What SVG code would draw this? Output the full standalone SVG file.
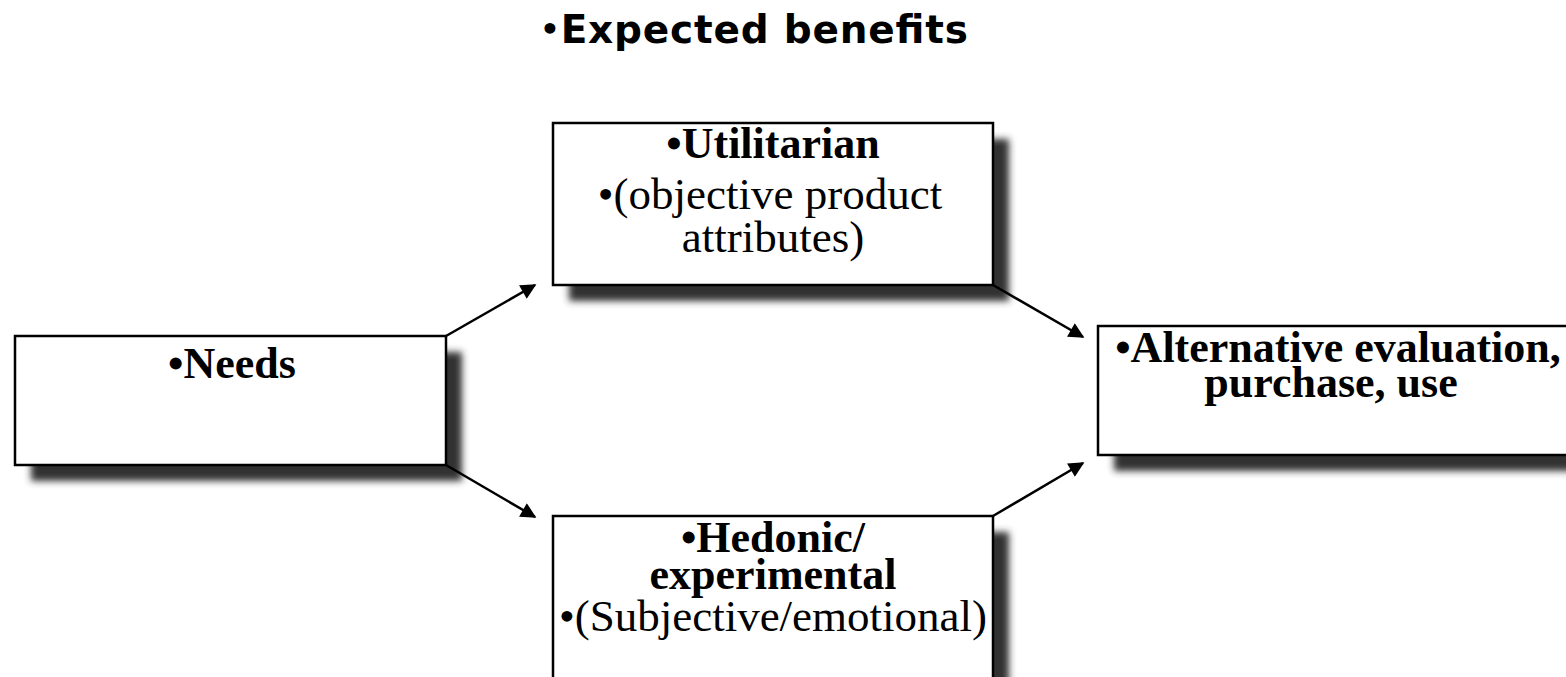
<svg xmlns="http://www.w3.org/2000/svg" width="1566" height="677" viewBox="0 0 1566 677">
  <style>
    .box { fill: #ffffff; stroke: #000000; stroke-width: 2.5; }
    .shadow { fill: #333333; filter: url(#soft); }
    .title { font-family: "DejaVu Sans", "Open Sans", sans-serif; font-weight: 700; font-size: 39px; fill: #000; }
    .dot { font-size: 31px; }
    .hd { font-family: "Liberation Serif", "Times New Roman", serif; font-weight: 700; font-size: 44px; fill: #000; text-anchor: middle; }
    .bd { font-family: "Liberation Serif", "Times New Roman", serif; font-weight: 400; font-size: 45px; fill: #000; text-anchor: middle; }
    .link { stroke: #000; stroke-width: 2.5; fill: none; marker-end: url(#head); }
  </style>
  <defs>
    <filter id="soft" x="-10%" y="-20%" width="120%" height="140%">
      <feGaussianBlur stdDeviation="3.5"/>
    </filter>
    <marker id="head" viewBox="0 0 10 10" refX="9" refY="5" markerWidth="7" markerHeight="6.2" markerUnits="strokeWidth" orient="auto">
      <path d="M0,0 L10,5 L0,10 Z" fill="#000"/>
    </marker>
  </defs>

  <rect width="1566" height="677" fill="#ffffff"/>

  <!-- heading -->
  <text class="title" x="540" y="43" textLength="428" lengthAdjust="spacing"><tspan class="dot" dy="-3">•</tspan><tspan dy="3">Expected benefits</tspan></text>

  <g id="needs">
    <rect class="shadow" x="31" y="352" width="431" height="129"/>
    <rect class="box" x="15" y="336" width="431" height="129"/>
    <text class="hd" x="232" y="378">•Needs</text>
  </g>

  <g id="utilitarian">
    <rect class="shadow" x="569" y="139" width="440" height="162"/>
    <rect class="box" x="553" y="123" width="440" height="162"/>
    <text class="hd" x="773" y="158">•Utilitarian</text>
    <text class="bd" x="770" y="209">•(objective product</text>
    <text class="bd" x="773" y="252">attributes)</text>
  </g>

  <g id="hedonic">
    <rect class="shadow" x="569" y="532" width="440" height="180"/>
    <rect class="box" x="553" y="516" width="440" height="180"/>
    <text class="hd" x="773" y="552">•Hedonic/</text>
    <text class="hd" x="773" y="589">experimental</text>
    <text class="bd" x="773" y="631">•(Subjective/emotional)</text>
  </g>

  <g id="outcome">
    <rect class="shadow" x="1114" y="342" width="480" height="129"/>
    <rect class="box" x="1098" y="326" width="480" height="129"/>
    <text class="hd" x="1338" y="362">•Alternative evaluation,</text>
    <text class="hd" x="1331" y="397">purchase, use</text>
  </g>

  <!-- connectors, drawn over the shadows -->
  <g id="connectors">
    <line class="link" x1="446" y1="336" x2="535" y2="285"/>
    <line class="link" x1="446" y1="465" x2="535" y2="517"/>
    <line class="link" x1="993" y1="285" x2="1083" y2="337"/>
    <line class="link" x1="993" y1="516" x2="1083" y2="463"/>
  </g>
</svg>
